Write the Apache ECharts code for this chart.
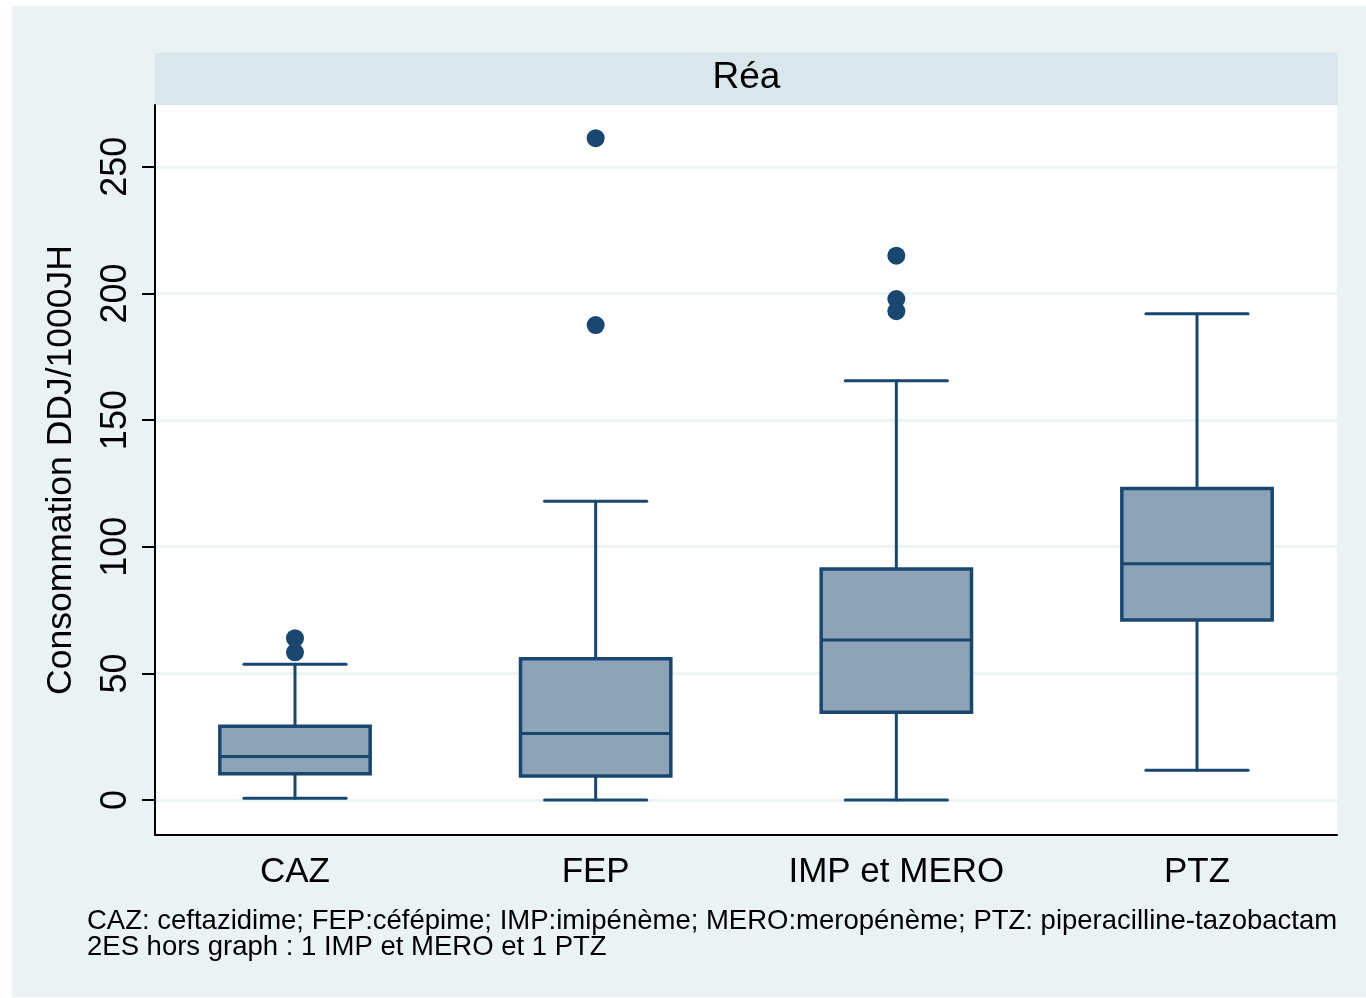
<!DOCTYPE html>
<html>
<head>
<meta charset="utf-8">
<script src="https://cdn.jsdelivr.net/npm/echarts@6/dist/echarts.min.js"></script>
<style>
html,body{margin:0;padding:0;background:#fff;}
#main{position:absolute;left:12px;top:6px;width:1354px;height:991px;}
</style>
</head>
<body>
<div id="main"></div>
<script>
var categories = ['CAZ', 'FEP', 'IMP et MERO', 'PTZ'];
var whiskerLow = [0.7, 0, 0, 11.8];
var q1 = [10.4, 9.5, 34.7, 71.1];
var median = [17.2, 26.3, 63.2, 93.3];
var q3 = [29.1, 55.8, 91.2, 123];
var whiskerHigh = [53.6, 118, 165.5, 192];
var outlierCat = [1, 1, 2, 2, 3, 3, 3];
var outlierVal = [58.3, 63.9, 187.5, 261.3, 193, 197.8, 214.9];
var yTicks = [0, 50, 100, 150, 200, 250];

var navy = '#1a476f';
var boxFill = '#8da3b7';
var font = 'Liberation Sans, Arial, Helvetica, sans-serif';

// données des boîtes
var boxData = [];
for (var i = 0; i < categories.length; i++) {
	boxData.push([i + 1, whiskerLow[i], q1[i], median[i], q3[i], whiskerHigh[i]]);
}
var outData = [];
for (var j = 0; j < outlierCat.length; j++) {
	outData.push([outlierCat[j], outlierVal[j]]);
}

function renderBox(params, api) {
	var x = api.value(0);
	var lo = api.coord([x, api.value(1)]);
	var b1 = api.coord([x, api.value(2)]);
	var md = api.coord([x, api.value(3)]);
	var b3 = api.coord([x, api.value(4)]);
	var hi = api.coord([x, api.value(5)]);
	var band = api.size([1, 0])[0];
	var bw = band * 0.5, cw = band * 0.34;
	var cx = md[0];
	var ls = {stroke: navy, lineWidth: 3, lineCap: 'round'};
	return {
		type: 'group',
		children: [
			{type: 'line', shape: {x1: cx, y1: lo[1], x2: cx, y2: b1[1]}, style: ls},
			{type: 'line', shape: {x1: cx, y1: b3[1], x2: cx, y2: hi[1]}, style: ls},
			{type: 'line', shape: {x1: cx - cw / 2, y1: lo[1], x2: cx + cw / 2, y2: lo[1]}, style: ls},
			{type: 'line', shape: {x1: cx - cw / 2, y1: hi[1], x2: cx + cw / 2, y2: hi[1]}, style: ls},
			{type: 'rect', shape: {x: cx - bw / 2, y: b3[1], width: bw, height: b1[1] - b3[1]},
				style: {fill: boxFill, stroke: navy, lineWidth: 3.5}},
			{type: 'line', shape: {x1: cx - bw / 2, y1: md[1], x2: cx + bw / 2, y2: md[1]},
				style: {stroke: navy, lineWidth: 3}}
		]
	};
}

var myChart = echarts.init(document.getElementById('main'));
myChart.setOption({
	backgroundColor: '#eaf2f3',
	animation: false,
	grid: {
		left: 143, right: 29, top: 99, bottom: 162,
		show: true, backgroundColor: '#ffffff', borderWidth: 0
	},
	graphic: [
		{type: 'rect', left: 143, top: 47, shape: {width: 1183, height: 52}, style: {fill: '#d9e6eb'}},
		{type: 'text', x: 734.5, y: 72, style: {text: 'Réa', font: '37px ' + font, fill: '#000',
			align: 'center', verticalAlign: 'middle'}},
		{type: 'text', x: 75, y: 902, style: {
			text: 'CAZ: ceftazidime; FEP:céfépime; IMP:imipénème; MERO:meropénème; PTZ: piperacilline-tazobactam\n2ES hors graph : 1 IMP et MERO et 1 PTZ',
			font: '27.5px ' + font, fill: '#000', lineHeight: 26}}
	],
	xAxis: {
		type: 'value',
		min: 0.5344, max: 4.4656,
		axisLine: {show: true, onZero: false, lineStyle: {color: '#000', width: 2}},
		axisTick: {show: false},
		splitLine: {show: false},
		axisLabel: {
			customValues: [1, 2, 3, 4],
			formatter: function (v) { return categories[Math.round(v) - 1]; },
			fontSize: 35, fontFamily: font, color: '#000', margin: 20
		}
	},
	yAxis: {
		type: 'value',
		min: -13.8, max: 274.4,
		name: 'Consommation DDJ/1000JH',
		nameLocation: 'middle',
		nameGap: 76,
		nameTextStyle: {fontSize: 35.5, fontFamily: font, color: '#000'},
		axisLine: {show: true, onZero: false, lineStyle: {color: '#000', width: 2}},
		axisTick: {show: true, customValues: yTicks, length: 13, lineStyle: {color: '#000', width: 2}},
		splitLine: {show: true, lineStyle: {color: '#eaf2f3', width: 2.5}},
		axisLabel: {
			customValues: yTicks,
			rotate: 90,
			fontSize: 36, fontFamily: font, color: '#000', margin: 21
		}
	},
	series: [
		{
			type: 'custom',
			renderItem: renderBox,
			data: boxData,
			encode: {x: 0, y: [1, 2, 3, 4, 5]},
			z: 3
		},
		{
			type: 'scatter',
			data: outData,
			symbol: 'circle',
			symbolSize: 18,
			itemStyle: {color: navy, opacity: 1},
			z: 4
		}
	]
});
</script>
</body>
</html>
